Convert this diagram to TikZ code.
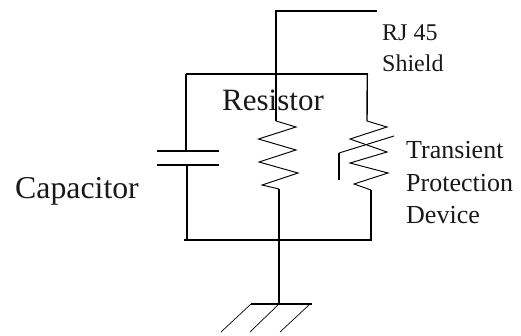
\documentclass[tikz,border=0pt]{standalone}
\usepackage{fontspec}
\setmainfont{Liberation Serif}
\begin{document}
\begin{tikzpicture}[x=1pt,y=-1pt,
  wire/.style={line width=1.4pt,black,line join=miter},
  zig/.style={line width=0.95pt,black,line join=miter},
  hatch/.style={line width=0.7pt,black},
  lbl/.style={anchor=base west,inner sep=0pt,text=black!90},
  big/.style={lbl,font=\fontsize{31}{31}\selectfont},
  mid/.style={lbl,font=\fontsize{26}{26}\selectfont},
  sml/.style={lbl,font=\fontsize{24}{24}\selectfont}]
\useasboundingbox (0,0) rectangle (521,335);
% labels
\node[sml] (rj) at (382,40) {RJ 45};
\node[sml] (shield) at (382,71) {Shield};
\node[big] (res) at (222,110) {Resistor};
\node[big,font=\fontsize{31.8}{32}\selectfont] (cap) at (15,198) {Capacitor};
\node[mid] (tr) at (406,158) {Transient};
\node[mid] (pr) at (406,191) {Protection};
\node[mid] (de) at (406,223) {Device};
% junctions
\coordinate (shieldend) at (377,11);
\coordinate (shieldcorner) at (276,11);
\coordinate (rtop) at (276,121);
\coordinate (rbot) at (279,189);
\coordinate (tl) at (185.5,74);
\coordinate (tr2) at (368,74);
\coordinate (bl) at (184,240);
\coordinate (br) at (372,240);
\coordinate (gndtop) at (279,240);
\coordinate (gndbar) at (279,304);
\coordinate (capa) at (186,151);
\coordinate (capb) at (187,165);
\coordinate (ttop) at (367,121);
\coordinate (tbot) at (371,190);
% wires
\draw[wire] (shieldend) -- (shieldcorner) -- (rtop);
\draw[wire] (capa) -- (186,74);
\draw[wire] (tl) -- (tr2);
\draw[wire] (367.3,74) -- (ttop);
\draw[wire] (capb) -- (187,240);
\draw[wire] (bl) -- (br);
\draw[wire] (rbot) -- (279,240);
\draw[wire] (tbot) -- (371,240);
\draw[wire] (gndtop) -- (gndbar);
% capacitor plates
\draw[wire] (157,151) -- (219,151);
\draw[wire] (157,165) -- (219,165);
% resistor
\draw[zig] (rtop) -- (296,127) -- (258.5,139) -- (296,150) -- (259,162) -- (298,173) -- (262,185) -- (rbot);
% transient device
\draw[zig] (ttop) -- (387,127) -- (350,139) -- (387,152) -- (350,163) -- (388,173) -- (354,184) -- (tbot);
\draw[zig] (394,136) -- (339,153);
\draw[wire] (339,152.5) -- (339,180);
% ground
\draw[wire] (251,304) -- (312,304);
\draw[hatch] (251,304) -- (221,332);
\draw[hatch] (279,304) -- (250,332);
\draw[hatch] (310,304) -- (280,332);
\end{tikzpicture}
\end{document}
